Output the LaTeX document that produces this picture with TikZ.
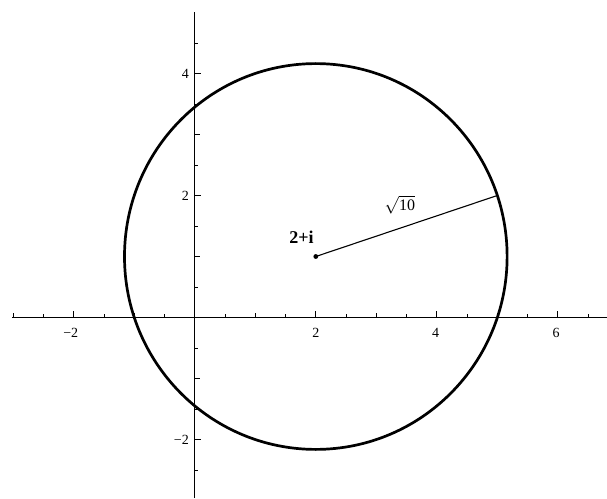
\documentclass[tikz,border=0pt]{standalone}
\usepackage{fontspec}
\setmainfont{Liberation Serif}
\begin{document}
\begin{tikzpicture}[x=60.5pt,y=61pt,
  axis/.style={line width=0.9pt},
  tickline/.style={line width=0.7pt},
  ticklab/.style={font=\fontsize{14}{14}\selectfont, inner sep=1pt},
  circ/.style={line width=2.7pt}]
\useasboundingbox (-3.220,-2.959) rectangle (6.813,5.205);
\coordinate (xl) at (-3.02,0);
\coordinate (xr) at (6.813,0);
\coordinate (yb) at (0,-2.959);
\coordinate (yt) at (0,5.01);
\draw[axis] (xl) -- (xr);
\draw[axis] (yb) -- (yt);
% x ticks
\foreach \t in {-2.5,-1.5,...,6.5}{
  \draw[tickline] (\t,0) -- ++(0,3.3pt);}
\foreach \t in {-3,-1,1,3,5}{
  \draw[tickline] (\t,0) -- ++(0,4.7pt);}
\foreach \t in {-2,2,4,6}{
  \draw[tickline] (\t,0) -- ++(0,6.5pt);}
% y ticks
\foreach \t in {-2.5,-1.5,...,4.5}{
  \draw[tickline] (0,\t) -- ++(3.3pt,0);}
\foreach \t in {-1,1,3}{
  \draw[tickline] (0,\t) -- ++(4.7pt,0);}
\foreach \t in {-2,2,4}{
  \draw[tickline] (0,\t) -- ++(6.5pt,0);}
\node[ticklab] (lxm2) at (-2.05,-0.26) {−2};
\node[ticklab] (lx2) at (2,-0.26) {2};
\node[ticklab] (lx4) at (3.98,-0.26) {4};
\node[ticklab] (lx6) at (5.97,-0.26) {6};
\node[ticklab,anchor=east] (ly4) at (-0.08,4) {4};
\node[ticklab,anchor=east] (ly2) at (-0.08,2) {2};
\node[ticklab,anchor=east] (lym2) at (-0.08,-2) {−2};
% circle
\coordinate (c) at (2,1);
\coordinate (p) at (5,2);
\draw[circ] (c) circle (3.1623);
\draw[line width=1.1pt] (c) -- (p);
\fill (c) circle (2.4pt);
\node[font=\fontsize{18}{18}\selectfont\bfseries] (lab) at (1.764,1.32) {2+i};
\node[font=\fontsize{16}{16}\selectfont] (r) at (3.39,1.85) {$\sqrt{\mbox{10}}$};
\end{tikzpicture}
\end{document}
